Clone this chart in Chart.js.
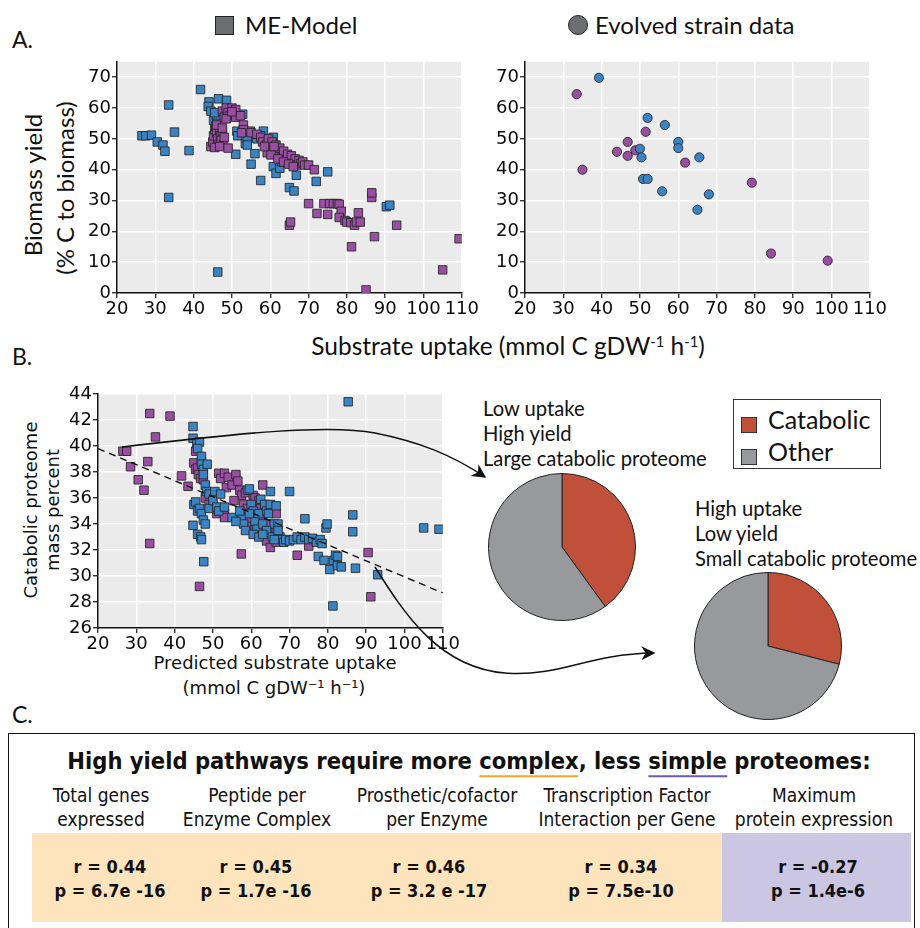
<!DOCTYPE html>
<html>
<head>
<meta charset="utf-8">
<script src="https://cdn.jsdelivr.net/npm/chart.js@4/dist/chart.umd.min.js"></script>
<style>
  body { margin: 0; background: #fff; }
  #page { position: relative; width: 920px; height: 928px; overflow: hidden; font-family: Lato, "Open Sans", sans-serif; color: #111; }
  canvas { position: absolute; }
  .t { position: absolute; white-space: nowrap; line-height: 1; }
  .c { transform: translate(-50%, -50%); }
  .rot { transform: translate(-50%, -50%) rotate(-90deg); }
  .dv { font-family: "DejaVu Sans", sans-serif; }
  .nar { font-family: "DejaVu Sans Condensed", sans-serif; }
  sup { font-size: 60%; vertical-align: 0; position: relative; top: -0.55em; }
  #legend { position: absolute; left: 733px; top: 399px; width: 146px; height: 68px; border: 1.5px solid #333; }
  .sw { position: absolute; width: 14px; height: 14px; border: 1px solid #333; }
  #boxC { position: absolute; left: 8px; top: 733px; width: 905px; height: 220px; border: 1.5px solid #111; }
  .band { position: absolute; }
  svg { position: absolute; left: 0; top: 0; }
</style>
</head>
<body>
<div id="page">
  <div class="t" style="left:12px;top:28px;font-size:23px;">A.</div>
  <div class="t" style="left:12px;top:345px;font-size:23px;">B.</div>
  <div class="t" style="left:12px;top:703px;font-size:23px;">C.</div>

  <div style="position:absolute;left:215px;top:16px;width:17px;height:17px;background:#6d6e71;border:1.5px solid #222;"></div>
  <div class="t" style="left:245px;top:13px;font-size:24px;">ME-Model</div>
  <div style="position:absolute;left:568px;top:15px;width:18px;height:18px;border-radius:50%;background:#6d6e71;border:1.5px solid #222;"></div>
  <div class="t" style="left:595px;top:13px;font-size:24px;">Evolved strain data</div>

  <div class="t rot" style="left:33px;top:185px;font-size:24px;">Biomass yield</div>
  <div class="t rot" style="left:65px;top:188px;font-size:24px;">(% C to biomass)</div>
  <div class="t c" style="left:508px;top:346px;font-size:24.5px;">Substrate uptake (mmol C gDW<sup>-1</sup> h<sup>-1</sup>)</div>

  <div class="t rot dv" style="left:31px;top:510px;font-size:18px;">Catabolic proteome</div>
  <div class="t rot dv" style="left:53px;top:510px;font-size:18px;">mass percent</div>
  <div class="t c dv" style="left:275px;top:663px;font-size:18px;">Predicted substrate uptake</div>
  <div class="t c dv" style="left:274px;top:688px;font-size:18px;">(mmol C gDW⁻¹ h⁻¹)</div>

  <div class="t" style="left:483px;top:398px;font-size:20.2px;">Low uptake</div>
  <div class="t" style="left:483px;top:423px;font-size:20.2px;">High yield</div>
  <div class="t" style="left:483px;top:448px;font-size:20.2px;">Large catabolic proteome</div>
  <div class="t" style="left:695px;top:498px;font-size:20.2px;">High uptake</div>
  <div class="t" style="left:695px;top:523px;font-size:20.2px;">Low yield</div>
  <div class="t" style="left:695px;top:548px;font-size:20.2px;">Small catabolic proteome</div>

  <div id="legend">
    <div class="sw" style="left:7px;top:17px;background:#c1503b;"></div>
    <div class="t" style="left:34px;top:7px;font-size:25px;">Catabolic</div>
    <div class="sw" style="left:7px;top:49px;background:#98999d;"></div>
    <div class="t" style="left:34px;top:39px;font-size:25px;">Other</div>
  </div>

  <canvas id="chartA1" width="410" height="280" style="left:70px;top:50px;"></canvas>
  <canvas id="chartA2" width="410" height="280" style="left:478px;top:50px;"></canvas>
  <canvas id="chartB" width="410" height="285" style="left:51px;top:380px;"></canvas>
  <canvas id="pieLow" width="148" height="148" style="left:488px;top:473px;"></canvas>
  <canvas id="pieHigh" width="148" height="148" style="left:694px;top:572px;"></canvas>

  <div id="boxC"></div>
  <div id="tableC"></div>

  <svg width="920" height="928">
    <defs>
      <marker id="ah" viewBox="0 0 10 10" refX="9" refY="5" markerWidth="14" markerHeight="14" markerUnits="userSpaceOnUse" orient="auto">
        <path d="M0,0 L10,5 L0,10 L3,5 z" fill="#111"/>
      </marker>
    </defs>
    <path d="M122,447 C 240,433 330,424 375,433 S 452,455 485,477" fill="none" stroke="#111" stroke-width="1.5" marker-end="url(#ah)"/>
    <path d="M375,567 C 405,615 440,668 505,673 C 562,677 585,654 654,653" fill="none" stroke="#111" stroke-width="1.5" marker-end="url(#ah)"/>
  </svg>
</div>

<script>
// Panel A (left): ME-Model predictions, [uptake, yield]
const modelBlueA = [
  [26.5,51],[27.5,51],[29,51.2],[30.5,49],[32,48],[32.5,46],[33.5,61],[33.5,31],[35,52.2],[38.8,46.2],
  [41.8,66],[44,62],[43.8,60.5],[44.5,59],[46.5,63],[48.6,62.5],[45.2,56],[46,56.5],[45.5,58.5],[46,55],
  [46.3,6.8],[51,45],[51.3,52.5],[51.5,51],[52.8,58],[53.5,48.5],[54,50],[54,48],[55,41.8],[54.8,52.5],
  [56,45.2],[57.5,36.5],[58.2,52.5],[56.5,50],[57.5,51],[60.8,50.5],[60.8,41],[61.5,38.8],[62.5,40.5],[63,42.5],
  [65,34.2],[66.2,33.1],[66.8,38.2],[72,36.2],[75,39.3],[90.3,28],[91.2,28.5],[64,44],[62,46.5],[59,49]
];
const modelPurpleA = [
  [44.5,47.5],[45,49],[45.2,51],[45.5,53],[45.8,54],[46,52],[46.3,50],[46.5,48],[46.8,53],[47,51],
  [47.2,49.5],[47.5,52.5],[47.8,48],[48,50.5],[45.5,47.2],[46.8,47.5],[49,47],[46,54.5],[47.5,53.5],
  [47.5,59],[48,57],[48.5,60],[49,58.5],[49.5,57.5],[50,60],[50.5,58],[51,59.5],[51,57],[48.5,56.5],
  [52.2,57.5],[50,58.8],[53,54.5],[53,53],[52.5,52],
  [55,52],[56.5,51.5],[57.5,50.5],[58,49],[59,48],[59.5,50],[60,47],[60.5,49],[61,46],[61.5,48],
  [62,45],[62.5,47],[63,44],[63.5,46],[64,43],[64.5,45],[65,42.5],[65.5,44.5],[66,42],[66.5,43.5],
  [67,41.5],[67.5,43],[68,42],[68.5,42.5],[69,41.5],[70,41.5],[59.2,45.5],[60.2,44.8],[58.5,47.5],[61,47.5],
  [62,43.5],[63.5,42.5],[64.8,41.8],[66,41],[71.5,40],
  [65,22],[65.3,23],[70,29],[72.2,25.8],[74,29],[75,25.5],[75.5,29],[76.5,29],[77.5,29],[78,28.8],
  [78.5,26.5],[78,24.5],[79.5,23.5],[80,23],[81,22.8],[82,22],[82.5,23],[83,26],[83.5,23],[81.2,15],
  [85,1],[86.5,31],[86.5,32.5],[87.2,18.3],[93,22],[105,7.5],[109.3,17.6]
];

// Panel A (right): evolved strain measurements
const strainBlue = [
  [39.3,69.8],[50,46.8],[50.4,44],[50.8,37],[52,56.8],[52,37],[56.5,54.5],[55.8,33],[60,49],[60,47],
  [65.5,44],[65,27],[68,32]
];
const strainPurple = [
  [33.5,64.5],[35,40],[44,45.8],[46.8,49],[46.8,44.5],[48.8,46.3],[51.5,52.3],[61.8,42.3],[79.2,35.8],
  [84.2,12.8],[99,10.5]
];

// Panel B: predicted uptake vs catabolic proteome mass percent
const protPurple = [
  [26.5,39.6],[27.5,39.6],[28.5,38.4],[30.5,37.4],[32,36.6],[33,38.8],[33.5,42.5],[35,40.7],[38.8,42.3],[33.5,32.5],
  [41.8,37.7],[43.5,36.9],[45.5,39.6],[45,38.7],[45.5,38.2],[46,38.3],[46.2,37.8],[46.8,37.5],[47,38.8],[47.5,37.4],
  [46.5,29.2],[48,36],[49,35.5],[51.5,37.9],[52,37.5],[53,37.9],[53.5,36.8],[54,37.6],[55,37],[56,37.8],
  [56.5,37.3],[57,36.6],[57.5,36.2],[58,35.5],[58.5,36.4],[59,35.2],[60.5,36.2],[61,36],[62,35.8],[63,37],
  [51,34.8],[53,34.8],[53,34.5],[55.5,35.8],[57.4,31.7],[59.5,34.2],[60,33.8],[61,33.6],[62,33.5],[63,34.5],
  [64,32.7],[65,32.2],[66,33.5],[66.5,33.6],[66.5,32.6],[72,31.6],[75,32.3],[90.5,31.8],[91.2,28.4],[66.5,34.8],
  [64.5,34],[62.5,35.2]
];
const protBlue = [
  [44.8,41.5],[44.8,40.6],[45.8,40.2],[46.5,40.3],[46,39.8],[47,39.2],[47,38.6],[47.5,38.2],[48.5,38.6],[47.5,37.8],
  [48,37],[48.3,36.5],[49,36.3],[50,35.5],[50.5,36.5],[45,35.5],[45.5,35.7],[46,35],[46.5,35.2],[47,34.8],
  [47.5,34.3],[48,34],[49,35.2],[50,35.8],[51,35.3],[51.5,35],[52,36.3],[53,35.3],[44.8,33.9],[46,33.2],
  [46.8,33],[47,32.8],[47.6,31.1],[57.5,34.5],[58,34],[58.5,33.5],[59,36.6],[59.5,36.7],[60,35.5],[60.5,35],
  [61,34.2],[61.5,33.6],[62,34.8],[62.5,35.9],[63,34],[63.5,35.5],[64,35],[64.5,34.8],[65,35.5],[65,36.5],
  [66,34],[66.5,35.4],[67,34],[67.5,33],[68,32.8],[68.5,32.6],[69,32.8],[70,32.7],[71,32.8],[72,33],
  [73,32.8],[74,33],[75,32.8],[76,32.9],[77,32.6],[78,32.8],[78.5,32.5],[64,33.5],[65.5,33],[66,32.8],
  [67,33.5],[70,36.5],[74,34.4],[77.5,31.5],[79,31.2],[79.5,33.7],[79.8,34],[80.5,30.5],[81.5,31.2],[82,31.6],
  [82.5,31.5],[82.5,30.8],[83.5,30.7],[81.3,27.7],[86.5,33.4],[86.5,34.7],[87.2,30.6],[93,30.1],[85.3,43.4],[105,33.7],
  [109,33.6],[55,34.5],[56,34.2],[57,35],[59.5,34.8],[60.5,33.2],[62,33],[63,33.2]
];
const trendLine = [[20,39.8],[110,28.7]];

// tick labels
const uptakeTicks = [20,30,40,50,60,70,80,90,100,110];
const yieldTicks = [0,10,20,30,40,50,60,70];
const proteomeTicks = [26,28,30,32,34,36,38,40,42,44];

// pies: [Catabolic, Other] percent
const pieLabels = ['Catabolic','Other'];
const pieLowUptake = [40,60];
const pieHighUptake = [29,71];

// Panel C table
const colHeaders = [
  ['Total genes','expressed'],
  ['Peptide per','Enzyme Complex'],
  ['Prosthetic/cofactor','per Enzyme'],
  ['Transcription Factor','Interaction per Gene'],
  ['Maximum','protein expression']
];
const rValues = ['0.44','0.45','0.46','0.34','-0.27'];
const pValues = ['6.7e -16','1.7e -16','3.2 e -17','7.5e-10','1.4e-6'];

const BLUE = '#3b84c4';
const PURPLE = '#9a4ea2';
const EDGE = 'rgba(35,35,35,0.85)';

const plotBg = {
  id: 'plotBg',
  beforeDraw(chart) {
    const { ctx, chartArea: a } = chart;
    if (!a) return;
    ctx.save();
    ctx.fillStyle = '#ebebeb';
    ctx.fillRect(a.left, a.top, a.width, a.height);
    ctx.restore();
  }
};

function toXY(pairs) {
  return pairs.map(p => ({ x: p[0], y: p[1] }));
}

function axis(min, max, ticks, size) {
  return {
    type: 'linear',
    min: min,
    max: max,
    afterBuildTicks: s => { s.ticks = ticks.map(v => ({ value: v })); },
    afterFit: s => { if (s.isHorizontal()) s.height = size; else s.width = size; },
    grid: { color: '#ffffff', lineWidth: 1.5, tickColor: '#111', tickLength: 5, tickWidth: 1.2 },
    border: { display: true, color: '#111', width: 1.5 },
    ticks: { color: '#0a0a0a', font: { family: 'DejaVu Sans', size: 18 }, padding: 1, maxRotation: 0, autoSkip: false }
  };
}

function scatterSet(pairs, color, style, radius, order) {
  return {
    type: 'scatter',
    data: toXY(pairs),
    pointStyle: style,
    pointRadius: radius,
    pointBackgroundColor: color,
    pointBorderColor: EDGE,
    pointBorderWidth: 1,
    order: order
  };
}

function scatterChart(id, datasets, yMin, yMax, yTicks, pad) {
  return new Chart(document.getElementById(id), {
    type: 'scatter',
    data: { datasets: datasets },
    options: {
      responsive: false,
      animation: false,
      layout: { padding: pad },
      plugins: { legend: { display: false }, tooltip: { enabled: false } },
      scales: {
        x: axis(20, 110, uptakeTicks, 37),
        y: axis(yMin, yMax, yTicks, 47)
      }
    },
    plugins: [plotBg]
  });
}

scatterChart('chartA1', [
  scatterSet(modelBlueA, BLUE, 'rect', 6, 2),
  scatterSet(modelPurpleA, PURPLE, 'rect', 6, 1)
], 0, 75, yieldTicks, { left: 0, right: 12, top: 9, bottom: 0 });

scatterChart('chartA2', [
  scatterSet(strainBlue, BLUE, 'circle', 4.6, 1),
  scatterSet(strainPurple, PURPLE, 'circle', 4.6, 2)
], 0, 75, yieldTicks, { left: 0, right: 12, top: 9, bottom: 0 });

scatterChart('chartB', [
  {
    type: 'line',
    data: toXY(trendLine),
    borderColor: '#111',
    borderWidth: 1.4,
    borderDash: [7, 5],
    pointRadius: 0,
    order: 0
  },
  scatterSet(protPurple, PURPLE, 'rect', 6, 2),
  scatterSet(protBlue, BLUE, 'rect', 6, 1)
], 26, 44, proteomeTicks, { left: 0, right: 12, top: 14, bottom: 0 });

function pieChart(id, values) {
  return new Chart(document.getElementById(id), {
    type: 'pie',
    data: {
      labels: pieLabels,
      datasets: [{
        data: values,
        backgroundColor: ['#c1503b', '#98999d'],
        borderColor: '#222',
        borderWidth: 1
      }]
    },
    options: {
      responsive: false,
      animation: false,
      layout: { padding: 0 },
      plugins: { legend: { display: false }, tooltip: { enabled: false } }
    }
  });
}

pieChart('pieLow', pieLowUptake);
pieChart('pieHigh', pieHighUptake);

// Panel C: header, bands and correlation values
const headerX = [101, 257, 437, 627, 814];
const valueX = [110, 256, 429, 621, 818];
let html = '';
html += '<div class="t c nar" style="left:469px;top:762px;font-size:23.5px;font-weight:bold;">' +
  'High yield pathways require more <span style="border-bottom:2.5px solid #f5a623;">complex</span>, less ' +
  '<span style="border-bottom:2.5px solid #6b5bb5;">simple</span> proteomes:</div>';
html += '<div class="band" style="left:32px;top:833px;width:690px;height:89px;background:#fde4bd;"></div>';
html += '<div class="band" style="left:722px;top:833px;width:189px;height:89px;background:#cbc6e2;"></div>';
colHeaders.forEach((h, i) => {
  html += '<div class="t c nar" style="left:' + headerX[i] + 'px;top:795px;font-size:19px;">' + h[0] + '</div>';
  html += '<div class="t c nar" style="left:' + headerX[i] + 'px;top:819px;font-size:19px;">' + h[1] + '</div>';
  html += '<div class="t c nar" style="left:' + valueX[i] + 'px;top:867px;font-size:18px;font-weight:bold;">r = ' + rValues[i] + '</div>';
  html += '<div class="t c nar" style="left:' + valueX[i] + 'px;top:891px;font-size:18px;font-weight:bold;">p = ' + pValues[i] + '</div>';
});
document.getElementById('tableC').innerHTML = html;
</script>
</body>
</html>
